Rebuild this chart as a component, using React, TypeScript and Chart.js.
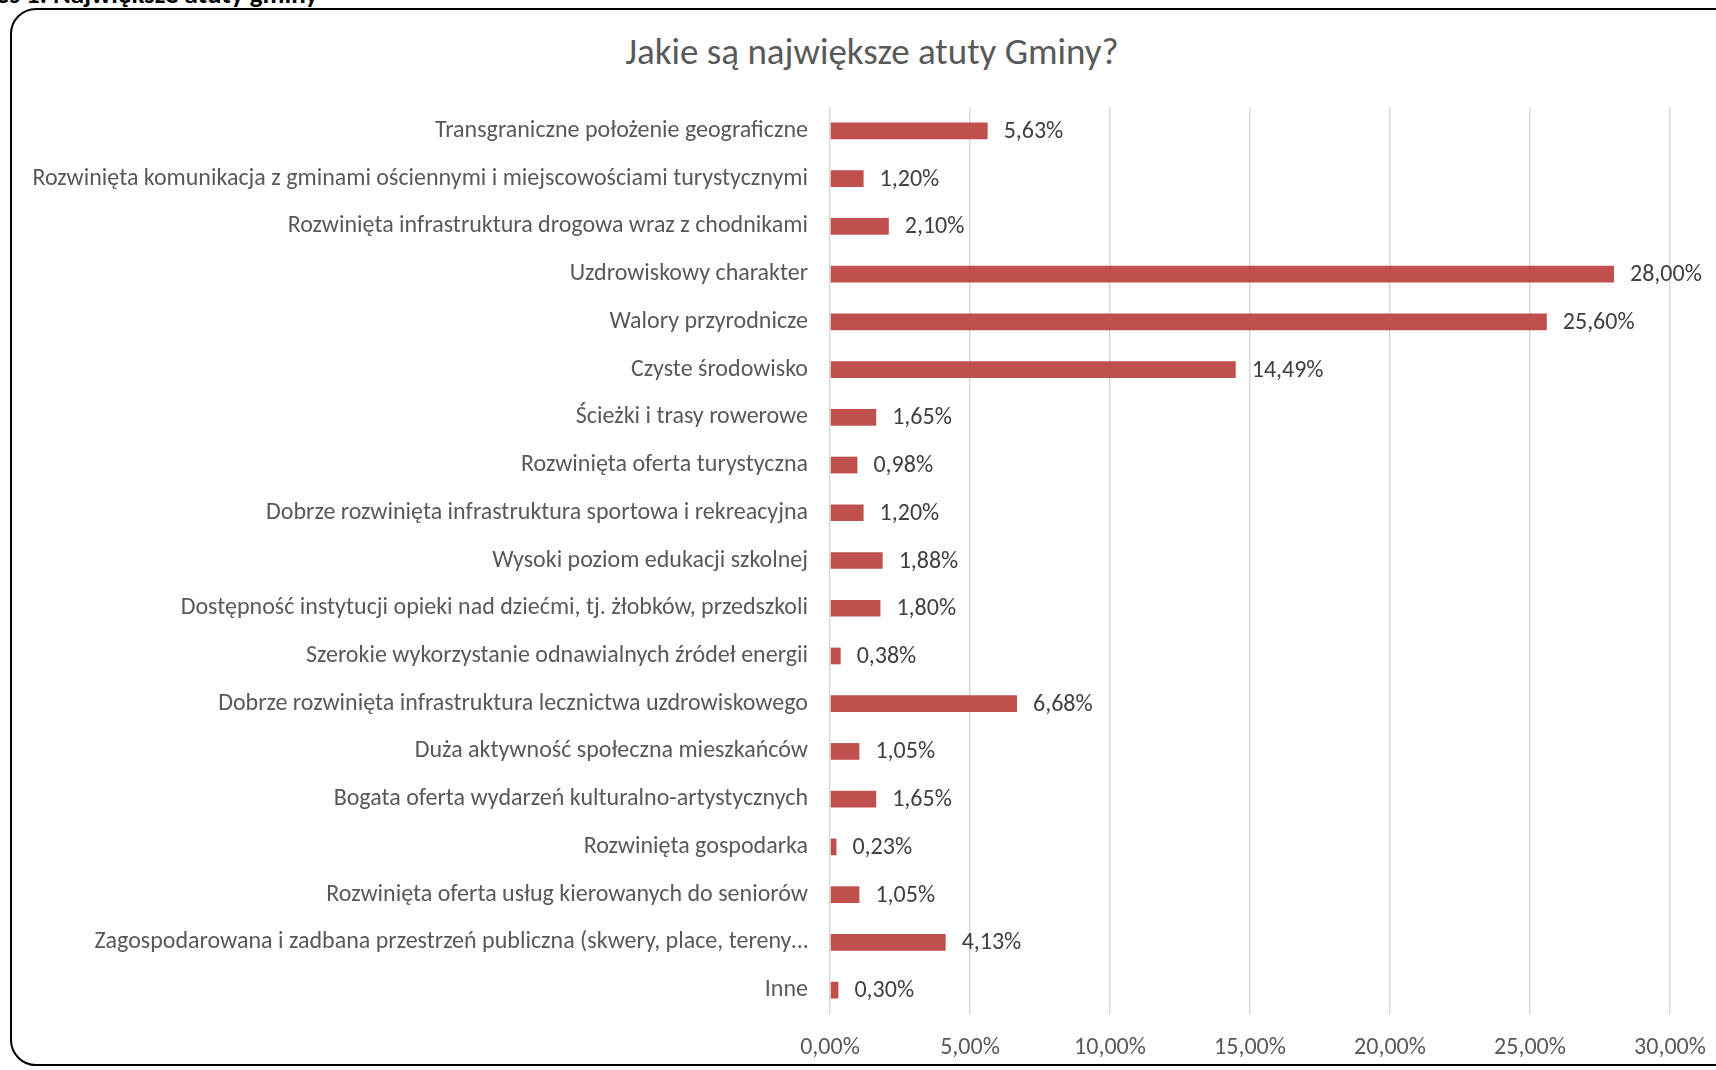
import React, { useEffect, useRef } from "react";
import { Chart, registerables } from "chart.js";

Chart.register(...registerables);

const chartTitle = "Jakie są największe atuty Gminy?";
const headerText = "Wykres 1. Największe atuty gminy";

const categories = [
  "Transgraniczne położenie geograficzne",
  "Rozwinięta komunikacja z gminami ościennymi i miejscowościami turystycznymi",
  "Rozwinięta infrastruktura drogowa wraz z chodnikami",
  "Uzdrowiskowy charakter",
  "Walory przyrodnicze",
  "Czyste środowisko",
  "Ścieżki i trasy rowerowe",
  "Rozwinięta oferta turystyczna",
  "Dobrze rozwinięta infrastruktura sportowa i rekreacyjna",
  "Wysoki poziom edukacji szkolnej",
  "Dostępność instytucji opieki nad dziećmi, tj. żłobków, przedszkoli",
  "Szerokie wykorzystanie odnawialnych źródeł energii",
  "Dobrze rozwinięta infrastruktura lecznictwa uzdrowiskowego",
  "Duża aktywność społeczna mieszkańców",
  "Bogata oferta wydarzeń kulturalno-artystycznych",
  "Rozwinięta gospodarka",
  "Rozwinięta oferta usług kierowanych do seniorów",
  "Zagospodarowana i zadbana przestrzeń publiczna (skwery, place, tereny…",
  "Inne",
];

const values = [
  5.63, 1.2, 2.1, 28.0, 25.6, 14.49, 1.65, 0.98, 1.2, 1.88, 1.8, 0.38, 6.68,
  1.05, 1.65, 0.23, 1.05, 4.13, 0.3,
];

const tickValues = [0, 5, 10, 15, 20, 25, 30];

const fmt = (v: number) => v.toFixed(2).replace(".", ",") + "%";

const FONT = "Carlito, Lato, 'Open Sans', sans-serif";

export default function App() {
  const ref = useRef<HTMLCanvasElement | null>(null);

  useEffect(() => {
    document.body.style.margin = "0";
    document.body.style.overflow = "hidden";
    const canvas = ref.current;
    if (!canvas) return;

    const labelPlugin = {
      id: "barValueLabels",
      afterDatasetsDraw(chart: any) {
        const ctx = chart.ctx;
        const meta = chart.getDatasetMeta(0);
        ctx.save();
        ctx.font = `24px ${FONT}`;
        ctx.fillStyle = "#404040";
        ctx.textAlign = "left";
        ctx.textBaseline = "middle";
        meta.data.forEach((bar: any, i: number) => {
          ctx.fillText(fmt(values[i]), bar.x + 16, bar.y + 1);
        });
        ctx.restore();
      },
    };

    const chart = new Chart(canvas, {
      type: "bar",
      data: {
        labels: categories,
        datasets: [
          {
            data: values,
            backgroundColor: "#C0504D",
            borderWidth: 0,
            categoryPercentage: 1,
            barPercentage: 0.35,
          },
        ],
      },
      options: {
        indexAxis: "y",
        responsive: false,
        animation: false,
        devicePixelRatio: 1,
        layout: { padding: { left: 0, top: 107, right: 46, bottom: 0 } },
        plugins: {
          legend: { display: false },
          tooltip: { enabled: false },
          title: { display: false },
        },
        scales: {
          x: {
            type: "linear",
            position: "bottom",
            min: 0,
            max: 30,
            afterBuildTicks: (s: any) => {
              s.ticks = tickValues.map((v) => ({ value: v }));
            },
            afterFit: (s: any) => {
              s.height = 56;
              s.paddingLeft = 0;
              s.paddingRight = 0;
            },
            grid: {
              color: "#D9D9D9",
              lineWidth: 1.5,
              drawTicks: false,
            },
            border: { display: false },
            ticks: {
              padding: 20,
              color: "#595959",
              font: { family: FONT, size: 24 },
              callback: (v: any) => fmt(Number(v)),
            },
          },
          y: {
            type: "category",
            position: "left",
            afterFit: (s: any) => {
              s.width = 830;
              s.paddingTop = 0;
              s.paddingBottom = 0;
            },
            grid: { display: false, drawTicks: false },
            border: { display: false },
            ticks: {
              autoSkip: false,
              padding: 22,
              color: "#595959",
              font: { family: FONT, size: 24 },
            },
          },
        },
      },
      plugins: [labelPlugin],
    });

    return () => chart.destroy();
  }, []);

  return (
    <div
      style={{
        position: "fixed",
        left: 0,
        top: 0,
        width: 1716,
        height: 1070,
        overflow: "hidden",
        background: "#fff",
        fontFamily: FONT,
      }}
    >
      <div
        style={{
          position: "absolute",
          right: 1716 - 318,
          top: -20,
          textAlign: "right",
          whiteSpace: "nowrap",
          fontWeight: "bold",
          fontSize: 27,
          lineHeight: "28px",
          color: "#000",
        }}
      >
        {headerText}
      </div>
      <div
        style={{
          position: "absolute",
          left: 10,
          top: 8,
          width: 1730,
          height: 1058,
          border: "2px solid #000",
          borderRadius: 26,
          boxSizing: "border-box",
        }}
      />
      <div
        style={{
          position: "absolute",
          left: 0,
          width: 1744,
          top: 30,
          textAlign: "center",
          fontSize: 37,
          lineHeight: "44px",
          color: "#595959",
        }}
      >
        {chartTitle}
      </div>
      <canvas
        ref={ref}
        width={1716}
        height={1070}
        style={{ position: "absolute", left: 0, top: 0, width: 1716, height: 1070 }}
      />
    </div>
  );
}
